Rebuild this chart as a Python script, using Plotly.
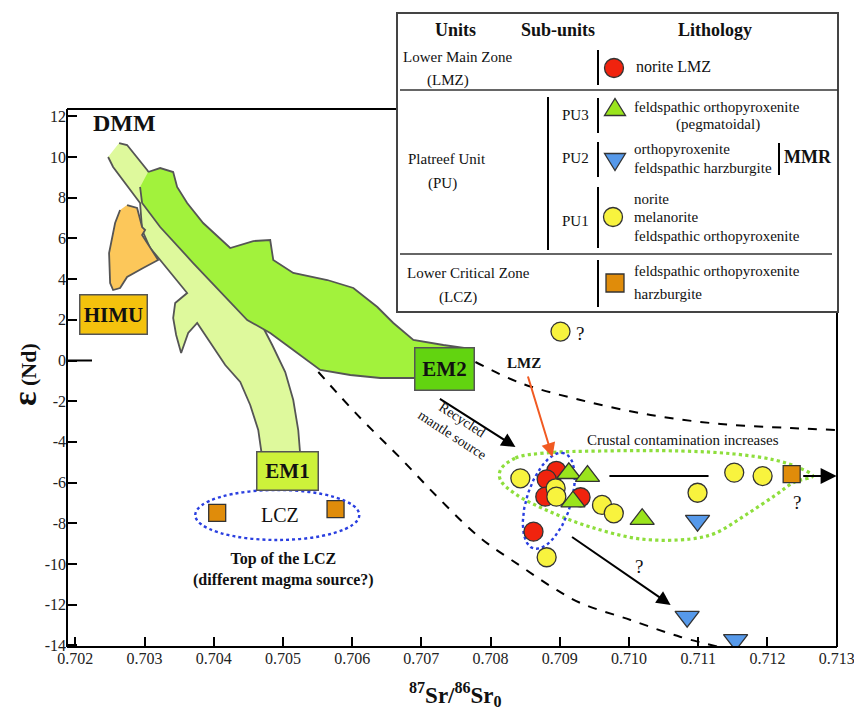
import numpy as np
import plotly.graph_objects as go

# ---------------- data ----------------
# Lower Main Zone (LMZ) norite
lmz_sr = [0.70895, 0.70881, 0.70879, 0.70930, 0.70862]
lmz_nd = [-5.42, -5.84, -6.69, -6.72, -8.41]
# Platreef PU1 (norite, melanorite, feldspathic orthopyroxenite)
pu1_sr = [0.70843, 0.70894, 0.70895, 0.70961, 0.70978, 0.71099, 0.70881, 0.71152, 0.71193, 0.70901]
pu1_nd = [-5.79, -6.28, -6.69, -7.10, -7.51, -6.50, -9.67, -5.51, -5.68, 1.42]
# Platreef PU3 (pegmatoidal feldspathic orthopyroxenite)
pu3_sr = [0.70913, 0.70940, 0.70919, 0.71019]
pu3_nd = [-5.54, -5.68, -6.94, -7.80]
# Platreef PU2 (orthopyroxenite, feldspathic harzburgite)
pu2_sr = [0.71099, 0.71084, 0.71154]
pu2_nd = [-7.87, -12.59, -13.73]
# Lower Critical Zone (LCZ)
lcz_sr = [0.70405, 0.70576, 0.71235]
lcz_nd = [-7.49, -7.30, -5.58]

# mantle reservoir fields
dmm_em1_sr = [0.702633, 0.702748, 0.703038, 0.703298, 0.703659, 0.704021, 0.704383, 0.704643,
              0.704845, 0.705033, 0.705149, 0.705221, 0.705250, 0.704701, 0.704643, 0.704527,
              0.704383, 0.704166, 0.704050, 0.703761, 0.703631, 0.703529, 0.703457, 0.703414,
              0.703443, 0.703616, 0.703226, 0.703081, 0.702965, 0.702936, 0.702546, 0.702474]
dmm_em1_nd = [10.688, 10.590, 9.361, 8.133, 6.658, 5.037, 3.464, 2.088,
              0.762, -0.565, -1.941, -3.415, -4.644, -4.791, -3.415, -2.187,
              -1.057, -0.221, 0.369, 1.843, 1.351, 0.369, 1.253, 2.088,
              2.826, 3.317, 4.939, 5.528, 6.413, 7.740, 9.509, 10.000]
em2_sr = [0.703052, 0.703226, 0.703414, 0.703471, 0.703616, 0.703847, 0.704238, 0.704571,
          0.704816, 0.704860, 0.705149, 0.705641, 0.706017, 0.706364, 0.706595, 0.706884,
          0.707318, 0.707636, 0.707709, 0.707275, 0.706884, 0.706407, 0.705973, 0.705539,
          0.705149, 0.704816, 0.704484, 0.703703, 0.703226, 0.702965, 0.702936]
em2_nd = [9.263, 9.459, 9.263, 8.526, 7.740, 6.757, 5.528, 5.872,
          5.921, 4.939, 4.300, 3.956, 3.563, 2.629, 1.843, 1.007,
          0.762, 0.614, 0.025, -0.860, -0.860, -0.860, -0.713, -0.467,
          0.516, 1.351, 1.990, 4.791, 6.560, 7.740, 8.526]
himu_sr = [0.702748, 0.702893, 0.702965, 0.703009, 0.702965, 0.703081, 0.703197, 0.702980,
           0.702748, 0.702647, 0.702546, 0.702503, 0.702488, 0.702575, 0.702647]
himu_nd = [7.641, 7.494, 6.560, 6.413, 6.167, 5.528, 4.939, 4.545,
           4.103, 3.563, 3.464, 3.808, 5.283, 6.757, 7.396]

# mixing / trend curves
upper_sr = [0.707781, 0.708432, 0.709299, 0.710312, 0.711324, 0.712336, 0.713016]
upper_nd = [-0.074, -1.106, -1.941, -2.678, -3.120, -3.317, -3.415]
lower_sr = [0.705511, 0.706118, 0.706696, 0.707275, 0.707853, 0.708432, 0.708909,
            0.709299, 0.710022, 0.710745, 0.711481]
lower_nd = [-0.565, -2.826, -4.791, -6.855, -8.722, -10.098, -11.179,
            -11.916, -12.752, -13.587, -14.226]
crust_sr = [0.708142, 0.708359, 0.708793, 0.709589, 0.710745, 0.711525, 0.712103, 0.712465,
            0.712653, 0.712393, 0.712119, 0.711685, 0.711252, 0.710890, 0.710167, 0.709444,
            0.708866, 0.708359, 0.708142, 0.708142]
crust_nd = [-5.381, -4.791, -4.545, -4.447, -4.447, -4.595, -4.889, -5.283,
            -5.676, -5.971, -6.609, -7.592, -8.477, -8.771, -8.771, -8.182,
            -7.445, -6.560, -5.872, -5.381]

x_ticks = [0.702, 0.703, 0.704, 0.705, 0.706, 0.707, 0.708, 0.709, 0.710, 0.711, 0.712, 0.713]
y_ticks = list(range(-14, 13, 2))

# ---------------- layout helpers ----------------
W, H = 854, 723
X_RANGE = [0.70188, 0.713005]
Y_RANGE = [-14.08, 12.36]
PL, PR, PT, PB = 67, 837, 109, 647       # plot frame in pixels
SR_PX = (PR - PL) / (X_RANGE[1] - X_RANGE[0])
ND_PX = (PB - PT) / (Y_RANGE[1] - Y_RANGE[0])


def px(x):
    return x / W


def py(y):
    return 1 - y / H


SERIF = "Liberation Serif, Times New Roman, serif"
fig = go.Figure()

# fields
fig.add_trace(go.Scatter(x=dmm_em1_sr, y=dmm_em1_nd, fill="toself", mode="lines",
                         line=dict(color="#555", width=1.8), fillcolor="#def99c",
                         hoverinfo="skip", showlegend=False))
fig.add_trace(go.Scatter(x=em2_sr, y=em2_nd, fill="toself", mode="lines",
                         line=dict(color="#555", width=1.8), fillcolor="#a2f23c",
                         hoverinfo="skip", showlegend=False))
fig.add_trace(go.Scatter(x=himu_sr, y=himu_nd, fill="toself", mode="lines",
                         line=dict(color="#555", width=1.8), fillcolor="#fcc75a",
                         hoverinfo="skip", showlegend=False))

# trend curves
fig.add_trace(go.Scatter(x=upper_sr, y=upper_nd, mode="lines", line=dict(color="black", width=2, dash="dash", shape="spline"),
                         hoverinfo="skip", showlegend=False))
fig.add_trace(go.Scatter(x=lower_sr, y=lower_nd, mode="lines", line=dict(color="black", width=2, dash="dash", shape="spline"),
                         hoverinfo="skip", showlegend=False))
fig.add_trace(go.Scatter(x=crust_sr, y=crust_nd, mode="lines", line=dict(color="#8ede3c", width=3.2, dash="dot", shape="spline"),
                         hoverinfo="skip", showlegend=False))

# LMZ tilted ellipse (center, semi-axes in px, tilt)
lmz_c = (0.708841, -6.894)
t = np.linspace(0, 2 * np.pi, 120)
phi = np.deg2rad(72)
a_px, b_px = 50, 22
ex = lmz_c[0] + (a_px * np.cos(t) * np.cos(phi) - b_px * np.sin(t) * np.sin(phi)) / SR_PX
ey = lmz_c[1] + (a_px * np.cos(t) * np.sin(phi) + b_px * np.sin(t) * np.cos(phi)) / ND_PX
fig.add_trace(go.Scatter(x=ex, y=ey, mode="lines", line=dict(color="#2a3fe0", width=2.4, dash="dot"),
                         hoverinfo="skip", showlegend=False))

# crustal contamination horizontal line
fig.add_trace(go.Scatter(x=[0.709717, 0.711149], y=[-5.68, -5.68], mode="lines",
                         line=dict(color="black", width=2), hoverinfo="skip", showlegend=False))

mk_line = dict(color="#333", width=1.3)
fig.add_trace(go.Scatter(x=lmz_sr, y=lmz_nd, mode="markers", name="norite LMZ",
                         marker=dict(symbol="circle", size=19, color="#f0230e", line=mk_line)))
fig.add_trace(go.Scatter(x=pu1_sr, y=pu1_nd, mode="markers", name="PU1",
                         marker=dict(symbol="circle", size=19, color="#f8f33e", line=mk_line)))
fig.add_trace(go.Scatter(x=pu3_sr, y=pu3_nd, mode="markers", name="PU3",
                         marker=dict(symbol="triangle-up", size=21, color="#9ae41c", line=mk_line)))
fig.add_trace(go.Scatter(x=pu2_sr, y=pu2_nd, mode="markers", name="PU2",
                         marker=dict(symbol="triangle-down", size=21, color="#5699ea", line=mk_line)))
fig.add_trace(go.Scatter(x=lcz_sr, y=lcz_nd, mode="markers", name="LCZ",
                         marker=dict(symbol="square", size=17, color="#e08c0a", line=mk_line)))

shapes = []
# LCZ ellipse
lcz_c, lcz_rx, lcz_ry = (0.704918, -7.592), 82 / SR_PX, 25 / ND_PX
shapes.append(dict(type="circle", xref="x", yref="y", x0=lcz_c[0] - lcz_rx, x1=lcz_c[0] + lcz_rx,
                   y0=lcz_c[1] - lcz_ry, y1=lcz_c[1] + lcz_ry,
                   line=dict(color="#2a3fe0", width=2.4, dash="dot"), layer="above"))
# longer zero tick
shapes.append(dict(type="line", xref="x", yref="y", x0=X_RANGE[0], x1=X_RANGE[0] + 25 / SR_PX, y0=0, y1=0,
                   line=dict(color="black", width=2), layer="above"))


def pline(x0, y0, x1, y1, w=2, c="black"):
    shapes.append(dict(type="line", xref="paper", yref="paper", x0=px(x0), y0=py(y0), x1=px(x1), y1=py(y1),
                       line=dict(color=c, width=w), layer="above"))


# frame
pline(PL, PT, PL, PB)
pline(PL, PB, PR, PB)
pline(PL, PT, PR, PT)
pline(PR, PT, PR, PB)
# legend table box
shapes.append(dict(type="rect", xref="paper", yref="paper", x0=px(397), y0=py(13), x1=px(838), y1=py(312),
                   fillcolor="white", line=dict(color="#444", width=2), layer="above"))
pline(400, 90, 838, 90, 1.5, "#333")
pline(400, 254, 832, 254, 1.5, "#333")
for (x0, y0, x1, y1) in [(598, 50, 598, 85), (548, 97, 548, 250), (598, 98, 598, 133), (598, 142, 598, 177),
                         (598, 187, 598, 248), (598, 260, 598, 307), (779, 143, 779, 175)]:
    pline(x0, y0, x1, y1, 2)


def glyph_circle(cx, cy, d, color):
    shapes.append(dict(type="circle", xref="paper", yref="paper", x0=px(cx - d / 2), x1=px(cx + d / 2),
                       y0=py(cy + d / 2), y1=py(cy - d / 2), fillcolor=color,
                       line=dict(color="#333", width=1.3), layer="above"))


def glyph_tri(cx, cy, w, h, color, down=False):
    s = -1 if down else 1
    pts = [(cx - w / 2, cy + s * h / 2), (cx + w / 2, cy + s * h / 2), (cx, cy - s * h / 2)]
    path = "M " + " L ".join(f"{px(a):.5f},{py(b):.5f}" for a, b in pts) + " Z"
    shapes.append(dict(type="path", xref="paper", yref="paper", path=path, fillcolor=color,
                       line=dict(color="#333", width=1.3), layer="above"))


glyph_circle(614, 68, 19, "#f0230e")
glyph_tri(615, 107, 21, 17, "#9ae41c")
glyph_tri(615, 162, 21, 17, "#5699ea", down=True)
glyph_circle(613, 217, 19, "#f8f33e")
shapes.append(dict(type="rect", xref="paper", yref="paper", x0=px(606), x1=px(624), y0=py(292), y1=py(274),
                   fillcolor="#e08c0a", line=dict(color="#333", width=1.3), layer="above"))

ann = []


def ptext(x, y, text, size=15, bold=False, anchor="center", angle=0):
    if bold:
        text = f"<b>{text}</b>"
    ann.append(dict(xref="paper", yref="paper", x=px(x), y=py(y), text=text, showarrow=False,
                    xanchor=anchor, yanchor="middle", textangle=angle,
                    font=dict(family=SERIF, size=size, color="#111")))


# legend table text
ptext(455, 30, "Units", 18, True)
ptext(558, 30, "Sub-units", 18, True)
ptext(715, 30, "Lithology", 18, True)
ptext(457, 57, "Lower Main Zone", 15)
ptext(448, 80, "(LMZ)", 15)
ptext(634, 66, "norite LMZ", 16, anchor="left")
ptext(447, 159, "Platreef Unit", 15)
ptext(442, 183, "(PU)", 15)
ptext(575, 115, "PU3", 15)
ptext(575, 158, "PU2", 15)
ptext(575, 221, "PU1", 15)
ptext(632, 107, "feldspathic orthopyroxenite", 15, anchor="left")
ptext(718, 124, "(pegmatoidal)", 15)
ptext(632, 149, "orthopyroxenite", 15, anchor="left")
ptext(632, 168, "feldspathic harzburgite", 15, anchor="left")
ptext(782, 157, "MMR", 18, True, anchor="left")
ptext(632, 199, "norite", 15, anchor="left")
ptext(632, 217, "melanorite", 15, anchor="left")
ptext(632, 236, "feldspathic orthopyroxenite", 15, anchor="left")
ptext(468, 273, "Lower Critical Zone", 15)
ptext(458, 297, "(LCZ)", 15)
ptext(632, 271, "feldspathic orthopyroxenite", 15, anchor="left")
ptext(632, 294, "harzburgite", 15, anchor="left")

# axis titles
ptext(24, 375, "<span style='font-size:34px'>ε</span> (Nd)", 22, True, angle=-90)
ptext(455, 694, "<sup>87</sup>Sr/<sup>86</sup>Sr<sub>0</sub>", 23, True)


def dtext(x, y, text, size=15, bold=False, angle=0, **kw):
    if bold:
        text = f"<b>{text}</b>"
    d = dict(xref="x", yref="y", x=x, y=y, text=text, showarrow=False, textangle=angle,
             font=dict(family=SERIF, size=size, color="#111"))
    d.update(kw)
    ann.append(d)


def box(x, y, text, color, w, h):
    dtext(x, y, text, 21, True, bgcolor=color, bordercolor="#555", borderwidth=1.5,
          width=w, height=h, borderpad=0)


dtext(0.702705, 11.67, "DMM", 24, True)
box(0.702546, 2.285, "HIMU", "#f4c20d", 66, 38)
box(0.707333, -0.442, "EM2", "#62d410", 58, 41)
box(0.705062, -5.43, "EM1", "#cdf23a", 60, 37)
dtext(0.704961, -7.59, "LCZ", 20)
dtext(0.705004, -10.25, "Top of the LCZ<br>(different magma source?)", 16, True)
dtext(0.708489, -0.123, "LMZ", 15, True)
dtext(0.710774, -3.907, "Crustal contamination increases", 15)
dtext(0.709299, 1.351, "?", 19)
dtext(0.712423, -7.002, "?", 19)
dtext(0.710138, -10.147, "?", 19)
dtext(0.707520, -3.30, "Recycled<br>mantle source", 14, angle=33)


def arrow(x0, y0, x1, y1, color="black", size=1.4):
    ann.append(dict(xref="x", yref="y", axref="x", ayref="y", x=x1, y=y1, ax=x0, ay=y0, text="",
                    showarrow=True, arrowhead=2, arrowsize=size, arrowwidth=2, arrowcolor=color))


arrow(0.707246, -1.843, 0.708359, -4.251)
arrow(0.708533, -0.713, 0.708894, -4.742, color="#f15a22")
arrow(0.709155, -8.624, 0.710601, -12.015)
arrow(0.712495, -5.68, 0.713, -5.68, size=1.6)

fig.update_layout(
    width=W, height=H, margin=dict(l=0, r=0, t=0, b=0),
    paper_bgcolor="white", plot_bgcolor="white", showlegend=False,
    shapes=shapes, annotations=ann,
    xaxis=dict(domain=[PL / W, PR / W], range=X_RANGE, showgrid=False, zeroline=False, showline=False,
               tickmode="array", tickvals=x_ticks, ticktext=[f"{v:.3f}" for v in x_ticks],
               ticks="inside", ticklen=10, tickwidth=2, tickcolor="black", ticklabeloverflow="allow",
               tickfont=dict(family=SERIF, size=16, color="#222"), automargin=False),
    yaxis=dict(domain=[1 - PB / H, 1 - PT / H], range=Y_RANGE, showgrid=False, zeroline=False, showline=False,
               tickmode="array", tickvals=y_ticks, ticktext=[str(v) for v in y_ticks],
               ticks="inside", ticklen=10, tickwidth=2, tickcolor="black", ticklabeloverflow="allow",
               tickfont=dict(family=SERIF, size=16, color="#222"), automargin=False),
)

fig.write_html("out.html")
